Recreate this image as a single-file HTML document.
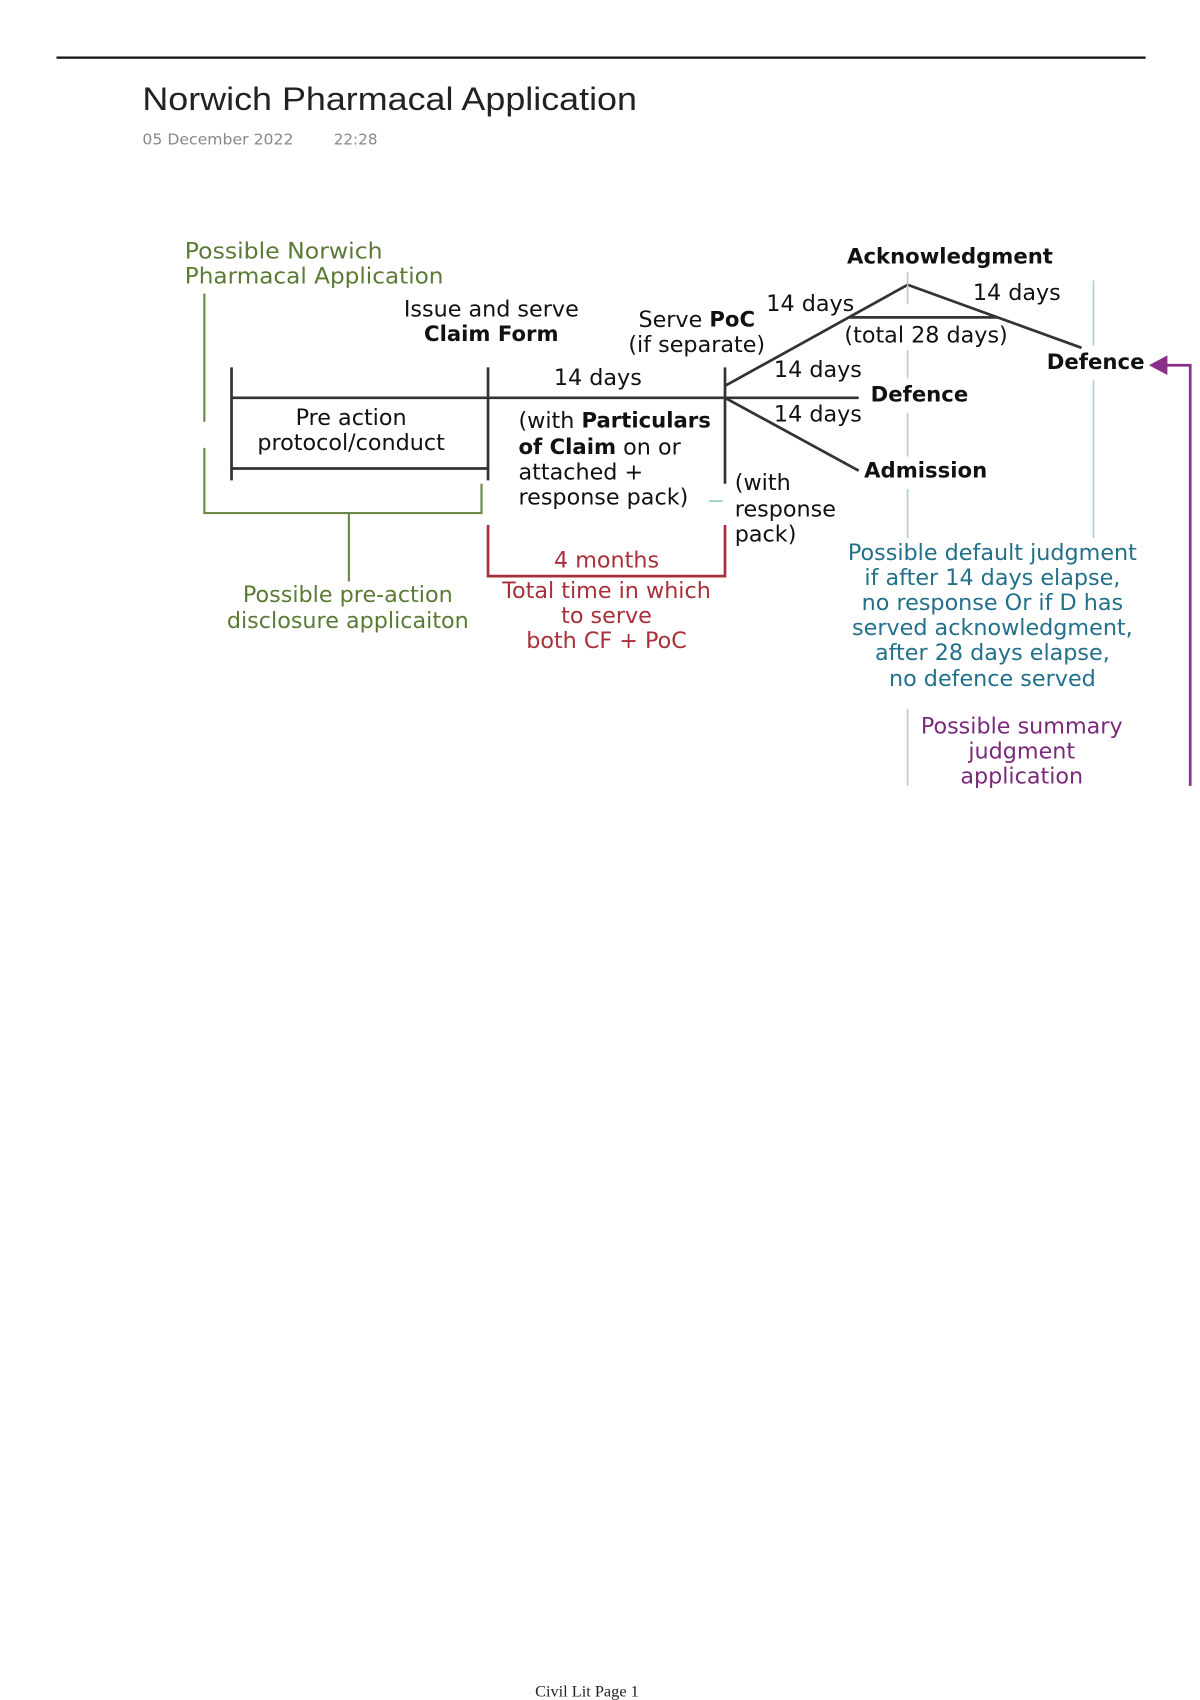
<!DOCTYPE html>
<html><head><meta charset="utf-8"><style>
html,body{margin:0;padding:0;background:#fff;}
svg{display:block;}
text{font-family:"DejaVu Sans",sans-serif;}
.b{font-weight:bold;font-size:19.5px;}
</style></head><body>
<svg width="1200" height="1700" viewBox="0 0 1104 1564" preserveAspectRatio="none" xmlns="http://www.w3.org/2000/svg">
<rect width="1104" height="1564" fill="#fff"/>
<line x1="52" y1="53" x2="1054" y2="53" stroke="#111" stroke-width="2"/>
<text x="131" y="101" font-size="30" fill="#222" textLength="455" lengthAdjust="spacingAndGlyphs" style="font-family:'Liberation Sans',sans-serif">Norwich Pharmacal Application</text>
<text x="131" y="133" font-size="14" fill="#888" textLength="139" lengthAdjust="spacingAndGlyphs">05 December 2022</text>
<text x="307" y="133" font-size="14" fill="#888">22:28</text>

<g font-size="20.5" dominant-baseline="middle">
<g fill="#5a7a35" stroke="none">
<text x="170" y="232" textLength="182" lengthAdjust="spacingAndGlyphs">Possible Norwich</text>
<text x="170" y="255" textLength="238" lengthAdjust="spacingAndGlyphs">Pharmacal Application</text>
<text x="320" y="548" text-anchor="middle">Possible pre-action</text>
<text x="320" y="572" text-anchor="middle">disclosure applicaiton</text>
</g>
<g stroke="#6b8a4a" stroke-width="2" fill="none">
<line x1="188" y1="270" x2="188" y2="388"/>
<polyline points="188,412 188,472 443,472 443,445"/>
<line x1="321" y1="472" x2="321" y2="535"/>
</g>
<g stroke="#333" stroke-width="2.5" fill="none">
<line x1="213" y1="366" x2="790" y2="366"/>
<line x1="213" y1="338" x2="213" y2="442"/>
<line x1="449" y1="338" x2="449" y2="442"/>
<line x1="667" y1="338" x2="667" y2="445"/>
<line x1="213" y1="431" x2="449" y2="431"/>
<line x1="667" y1="355" x2="835" y2="262"/>
<line x1="835" y1="262" x2="995" y2="320"/>
<line x1="781" y1="292" x2="918" y2="292"/>
<line x1="667" y1="366" x2="790" y2="433"/>
</g>
<line x1="652" y1="461" x2="665" y2="461" stroke="#9cc" stroke-width="1.5"/>
<g fill="#111">
<text x="323" y="385" text-anchor="middle">Pre action</text>
<text x="323" y="408" text-anchor="middle">protocol/conduct</text>
<text x="452" y="285" text-anchor="middle">Issue and serve</text>
<text x="452" y="308" text-anchor="middle" class="b">Claim Form</text>
<text x="550" y="348" text-anchor="middle">14 days</text>
<text x="477" y="388">(with <tspan class="b">Particulars</tspan></text>
<text x="477" y="412"><tspan class="b">of Claim</tspan> on or</text>
<text x="477" y="435">attached +</text>
<text x="477" y="458">response pack)</text>
<text x="641" y="295" text-anchor="middle">Serve <tspan class="b">PoC</tspan></text>
<text x="641" y="318" text-anchor="middle">(if separate)</text>
<text x="874" y="237" text-anchor="middle" class="b">Acknowledgment</text>
<text x="705" y="280">14 days</text>
<text x="895" y="270">14 days</text>
<text x="852" y="309" text-anchor="middle">(total 28 days)</text>
<text x="963" y="334" class="b" textLength="90" lengthAdjust="spacingAndGlyphs">Defence</text>
<text x="712" y="341">14 days</text>
<text x="801" y="364" class="b">Defence</text>
<text x="712" y="382">14 days</text>
<text x="795" y="434" class="b">Admission</text>
<text x="676" y="445">(with</text>
<text x="676" y="469">response</text>
<text x="676" y="492">pack)</text>
</g>
<g stroke="#a8cfd6" stroke-width="1.5">
<line x1="835" y1="250" x2="835" y2="280"/>
<line x1="835" y1="322" x2="835" y2="348"/>
<line x1="835" y1="380" x2="835" y2="420"/>
<line x1="835" y1="450" x2="835" y2="495"/>
<line x1="1006" y1="258" x2="1006" y2="318"/>
<line x1="1006" y1="350" x2="1006" y2="495"/>
<line x1="835" y1="652" x2="835" y2="723"/>
</g>
<g fill="#22708a" text-anchor="middle">
<text x="913" y="509">Possible default judgment</text>
<text x="913" y="532">if after 14 days elapse,</text>
<text x="913" y="555">no response Or if D has</text>
<text x="913" y="578">served acknowledgment,</text>
<text x="913" y="601">after 28 days elapse,</text>
<text x="913" y="625">no defence served</text>
</g>
<g fill="#7a2a7a" text-anchor="middle">
<text x="940" y="669">Possible summary</text>
<text x="940" y="692">judgment</text>
<text x="940" y="715">application</text>
</g>
<polyline points="1095,723 1095,336 1070,336" stroke="#8b2f8b" stroke-width="2.5" fill="none"/>
<polygon points="1057,336 1074,327 1074,345" fill="#8b2f8b"/>
<polyline points="449,483 449,530 667,530 667,483" stroke="#a8303a" stroke-width="2.5" fill="none"/>
<g fill="#a8303a" text-anchor="middle">
<text x="558" y="516">4 months</text>
<text x="558" y="544">Total time in which</text>
<text x="558" y="567">to serve</text>
<text x="558" y="590">both CF + PoC</text>
</g>
</g>

<line x1="52" y1="1565" x2="1054" y2="1565" stroke="#111" stroke-width="1.5"/>
<text x="540" y="1561" font-size="15" text-anchor="middle" fill="#222" style="font-family:'Liberation Serif',serif">Civil Lit Page 1</text>
</svg>
</body></html>
